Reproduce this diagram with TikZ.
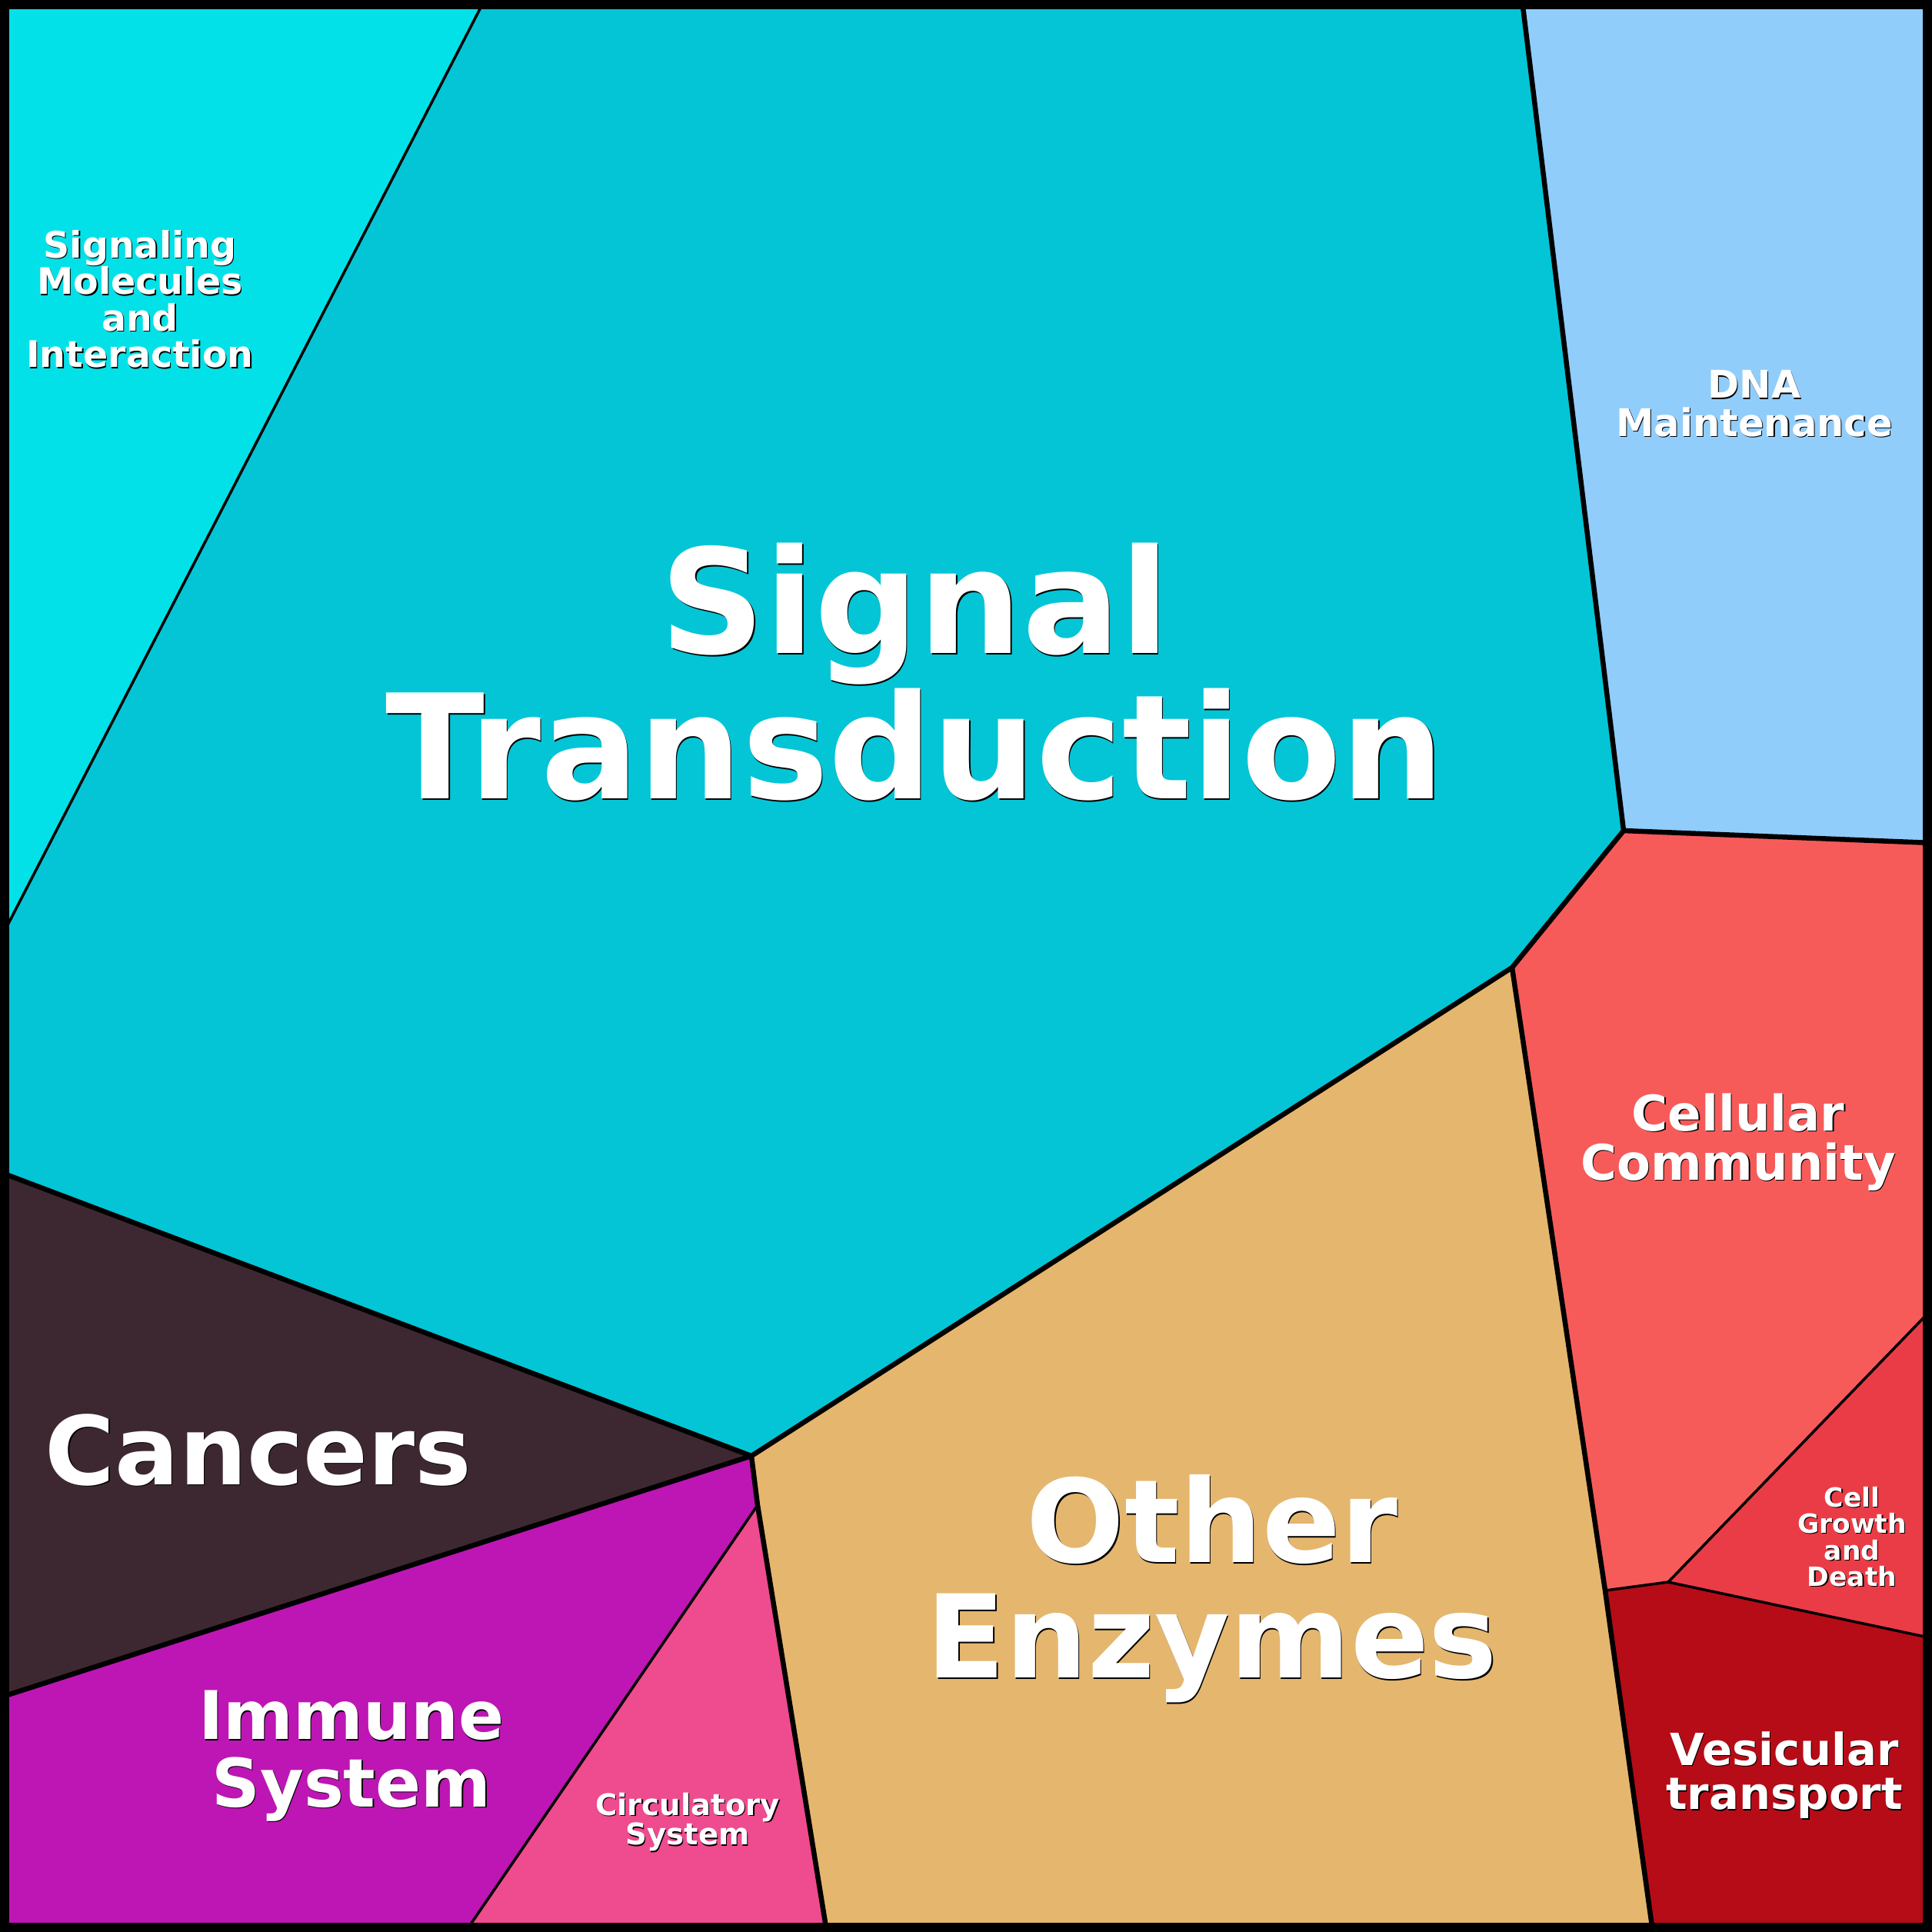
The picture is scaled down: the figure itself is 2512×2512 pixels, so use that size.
\documentclass[tikz,border=0pt]{standalone}
\usepackage{fontspec}
\setmainfont{DejaVu Sans}
\definecolor{csigmol}{HTML}{03E1E8}
\definecolor{csigtr}{HTML}{04C5D6}
\definecolor{cdna}{HTML}{90CDFB}
\definecolor{ccellcom}{HTML}{F65B5A}
\definecolor{ccellgr}{HTML}{EA3C46}
\definecolor{cvesic}{HTML}{B60C17}
\definecolor{cother}{HTML}{E5B66E}
\definecolor{ccancer}{HTML}{3D2832}
\definecolor{cimmune}{HTML}{BD16B4}
\definecolor{ccirc}{HTML}{EF4B8F}
\newcommand\vlabel[4]{%
  \node[lbl, text=black, font={\fontsize{#3}{#3}\selectfont\bfseries}] (#1-shadow) at ([shift={(1.3,1.3)}]#2) {#4};
  \node[lbl, text=white, font={\fontsize{#3}{#3}\selectfont\bfseries}] (#1) at (#2) {#4};
}
\begin{document}
\begin{tikzpicture}[x=0.01cm,y=-0.01cm,
  bigline/.style={line width=0.065cm, line join=round, line cap=round},
  smallline/.style={line width=0.035cm, line join=round, line cap=round},
  lbl/.style={inner sep=0pt, align=center}]
\useasboundingbox (0,0) rectangle (2512,2512);
% vertices
\coordinate (A) at (630,0);
\coordinate (B) at (0,1222);
\coordinate (C) at (1979,0);
\coordinate (D) at (2111,1080);
\coordinate (Dr) at (2512,1096);
\coordinate (E) at (1966,1258);
\coordinate (H) at (977,1893);
\coordinate (Hl) at (0,1524);
\coordinate (Hb) at (0,2207);
\coordinate (I) at (985,1957);
\coordinate (Ib) at (1075,2512);
\coordinate (Ic) at (605,2512);
\coordinate (F) at (2087,2068);
\coordinate (Fb) at (2149,2512);
\coordinate (G) at (2169,2057);
\coordinate (Gt) at (2512,1702);
\coordinate (Gr) at (2512,2130);
% fills
\fill[csigmol] (0,0) -- (A) -- (B) -- cycle;
\fill[csigtr] (A) -- (C) -- (D) -- (E) -- (H) -- (Hl) -- (B) -- cycle;
\fill[cdna] (C) -- (2512,0) -- (Dr) -- (D) -- cycle;
\fill[ccellcom] (D) -- (Dr) -- (Gt) -- (G) -- (F) -- (E) -- cycle;
\fill[ccellgr] (G) -- (Gt) -- (Gr) -- cycle;
\fill[cvesic] (F) -- (G) -- (Gr) -- (2512,2512) -- (Fb) -- cycle;
\fill[cother] (H) -- (E) -- (F) -- (Fb) -- (Ib) -- (I) -- cycle;
\fill[ccirc] (I) -- (Ib) -- (Ic) -- cycle;
\fill[cimmune] (H) -- (I) -- (Ic) -- (0,2512) -- (Hb) -- cycle;
\fill[ccancer] (Hl) -- (H) -- (Hb) -- cycle;
% thin lines (within groups)
\draw[smallline] (A) -- (B);
\draw[smallline] (I) -- (Ic);
\draw[smallline] (F) -- (G) -- (Gt);
\draw[smallline] (G) -- (Gr);
% thick lines (between groups)
\draw[bigline] (C) -- (D) -- (Dr);
\draw[bigline] (D) -- (E) -- (H) -- (Hl);
\draw[bigline] (H) -- (Hb);
\draw[bigline] (H) -- (I) -- (Ib);
\draw[bigline] (E) -- (F) -- (Fb);
% frame
\draw[line width=0.12cm] (6,6) rectangle (2506,2506);
% labels
\vlabel{sigmol}{182,389}{13.5}{Signaling\\Molecules\\and\\Interaction}
\vlabel{sigtr}{1190,874}{53.7}{Signal\\Transduction}
\vlabel{dna}{2281,525}{14.1}{DNA\\Maintenance}
\vlabel{cellcom}{2260,1485}{18.2}{Cellular\\Community}
\vlabel{cellgr}{2408,1998}{9.8}{Cell\\Growth\\and\\Death}
\vlabel{vesic}{2320,2308}{16.4}{Vesicular\\transport}
\vlabel{other}{1576,2066}{42.7}{Other\\Enzymes}
\vlabel{cancer}{336,1885}{35.2}{Cancers}
\vlabel{immune}{457,2283}{24.8}{Immune\\System}
\vlabel{circ}{894,2369}{11}{Circulatory\\System}
\end{tikzpicture}
\end{document}
